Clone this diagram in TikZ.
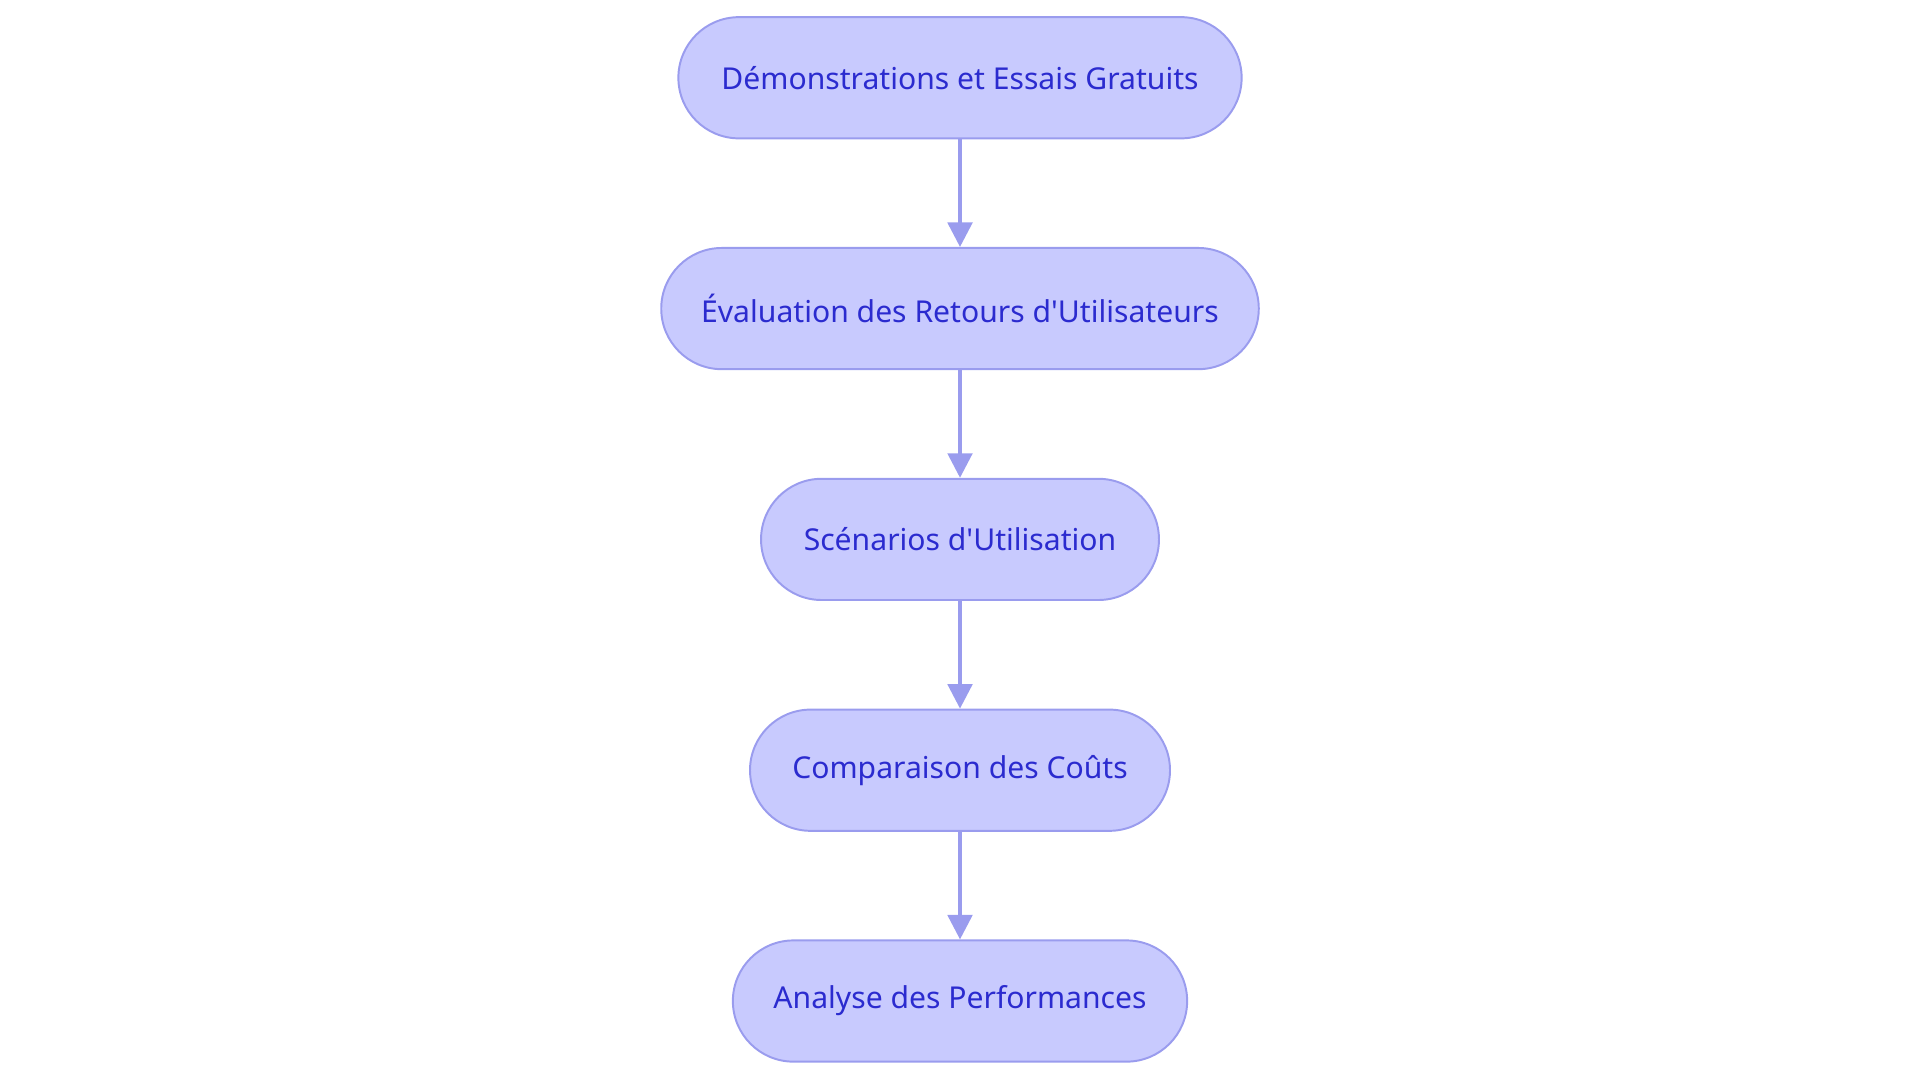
\documentclass[tikz,border=0pt]{standalone}
\usepackage{fontspec}
\setmainfont{Noto Sans}
\usetikzlibrary{arrows.meta}
\definecolor{fillc}{HTML}{C8CAFE}
\definecolor{linec}{HTML}{9A9CEE}
\definecolor{textc}{HTML}{2B2BCF}
\begin{document}
\begin{tikzpicture}[x=0.5pt,y=-0.5pt,
  box/.style={draw=linec,line width=0.8pt,fill=fillc,rounded corners=24.75pt,text=textc,font=\fontsize{12.3}{14}\selectfont,minimum height=49.5pt,inner sep=0pt},
  arr/.style={draw=linec,line width=1.5pt,-{Triangle[length=10pt,width=10pt]}}]
\useasboundingbox (0,0) rectangle (1568,884);
\node[box,minimum width=230pt] (a) at (784,63.5) {Démonstrations et Essais Gratuits};
\node[box,minimum width=244pt] (b) at (784,252) {Évaluation des Retours d\textquotesingle Utilisateurs};
\node[box,minimum width=162.5pt] (c) at (784,440.5) {Scénarios d\textquotesingle Utilisation};
\node[box,minimum width=171.5pt] (d) at (784,629) {Comparaison des Coûts};
\node[box,minimum width=185.5pt] (e) at (784,817.5) {Analyse des Performances};
\draw[arr] (a) -- (b);
\draw[arr] (b) -- (c);
\draw[arr] (c) -- (d);
\draw[arr] (d) -- (e);
\end{tikzpicture}
\end{document}
